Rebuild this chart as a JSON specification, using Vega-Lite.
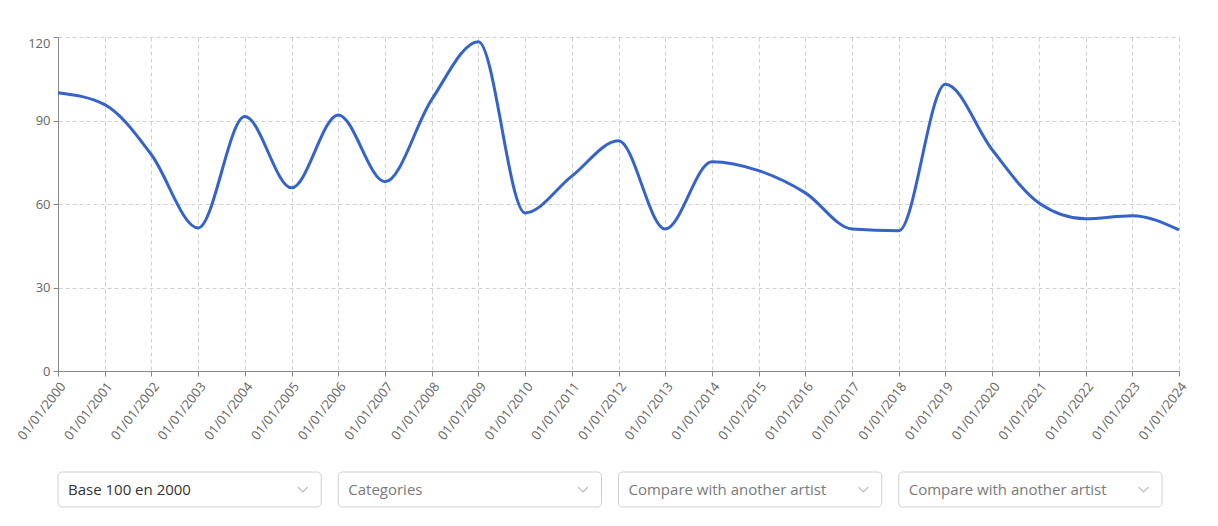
{
  "$schema": "https://vega.github.io/schema/vega-lite/v6.json",
  "padding": {"left": 15, "top": 35, "right": 5, "bottom": 5},
  "bounds": "flush",
  "spacing": 101,
  "config": {
    "view": {"stroke": null},
    "font": "Open Sans"
  },
  "vconcat": [
    {
      "width": 1121,
      "height": 334,
      "data": {
        "values": [
          {"year": 2000, "index": 100},
          {"year": 2001, "index": 95.7},
          {"year": 2002, "index": 77.7},
          {"year": 2003, "index": 51.4},
          {"year": 2004, "index": 91.4},
          {"year": 2005, "index": 65.8},
          {"year": 2006, "index": 92},
          {"year": 2007, "index": 68},
          {"year": 2008, "index": 97.5},
          {"year": 2009, "index": 118.3},
          {"year": 2010, "index": 56.8},
          {"year": 2011, "index": 70},
          {"year": 2012, "index": 82.7},
          {"year": 2013, "index": 51},
          {"year": 2014, "index": 75.2},
          {"year": 2015, "index": 72},
          {"year": 2016, "index": 64},
          {"year": 2017, "index": 51},
          {"year": 2018, "index": 50.4},
          {"year": 2019, "index": 103},
          {"year": 2020, "index": 79.5},
          {"year": 2021, "index": 60.4},
          {"year": 2022, "index": 54.7},
          {"year": 2023, "index": 55.8},
          {"year": 2024, "index": 50.7}
        ]
      },
      "mark": {"type": "line", "interpolate": "monotone", "color": "#3563c9", "strokeWidth": 3},
      "encoding": {
        "x": {
          "field": "year",
          "type": "quantitative",
          "scale": {"domain": [2000, 2024], "nice": false, "zero": false},
          "axis": {
            "title": null,
            "values": [2000, 2001, 2002, 2003, 2004, 2005, 2006, 2007, 2008, 2009, 2010, 2011, 2012, 2013, 2014, 2015, 2016, 2017, 2018, 2019, 2020, 2021, 2022, 2023, 2024],
            "labelExpr": "'01/01/' + datum.value",
            "labelAngle": -52,
            "labelAlign": "right",
            "labelBaseline": "top",
            "labelFontSize": 13,
            "labelColor": "#666",
            "labelPadding": 4,
            "labelOverlap": false,
            "tickSize": 5,
            "tickColor": "#888",
            "domainColor": "#888",
            "gridColor": "#d0d0d0",
            "gridDash": [4, 3]
          }
        },
        "y": {
          "field": "index",
          "type": "quantitative",
          "scale": {"domain": [0, 120], "nice": false},
          "axis": {
            "title": null,
            "values": [0, 30, 60, 90, 120],
            "labelFontSize": 13,
            "labelColor": "#666",
            "labelPadding": 3,
            "labelBaseline": {"expr": "datum.value == 120 ? 'top' : 'middle'"},
            "minExtent": 30,
            "maxExtent": 30,
            "tickSize": 5,
            "tickColor": "#888",
            "domainColor": "#888",
            "gridColor": "#d0d0d0",
            "gridDash": [4, 3]
          }
        }
      }
    },
    {
      "width": 1104,
      "height": 35,
      "data": {
        "values": [
          {"slot": 1, "label": "Base 100 en 2000", "state": "selected"},
          {"slot": 2, "label": "Categories", "state": "placeholder"},
          {"slot": 3, "label": "Compare with another artist", "state": "placeholder"},
          {"slot": 4, "label": "Compare with another artist", "state": "placeholder"}
        ]
      },
      "encoding": {
        "x": {
          "field": "slot",
          "type": "ordinal",
          "scale": {"paddingInner": 0.0607, "paddingOuter": 0},
          "axis": null
        }
      },
      "layer": [
        {
          "mark": {"type": "rect", "fill": "white", "stroke": "#cfcfcf", "strokeWidth": 1, "cornerRadius": 4}
        },
        {
          "mark": {"type": "text", "align": "left", "dx": 10, "fontSize": 15},
          "encoding": {
            "x": {"field": "slot", "type": "ordinal", "bandPosition": 0},
            "text": {"field": "label"},
            "color": {
              "field": "state",
              "type": "nominal",
              "scale": {"domain": ["selected", "placeholder"], "range": ["#333333", "#7a7a7a"]},
              "legend": null
            }
          }
        },
        {
          "mark": {"type": "point", "shape": "M-1,-0.5L0,0.5L1,-0.5", "filled": false, "stroke": "#b8b8b8", "strokeWidth": 1.2, "size": 92, "opacity": 1},
          "encoding": {
            "x": {"field": "slot", "type": "ordinal", "bandPosition": 0.93}
          }
        }
      ]
    }
  ]
}
